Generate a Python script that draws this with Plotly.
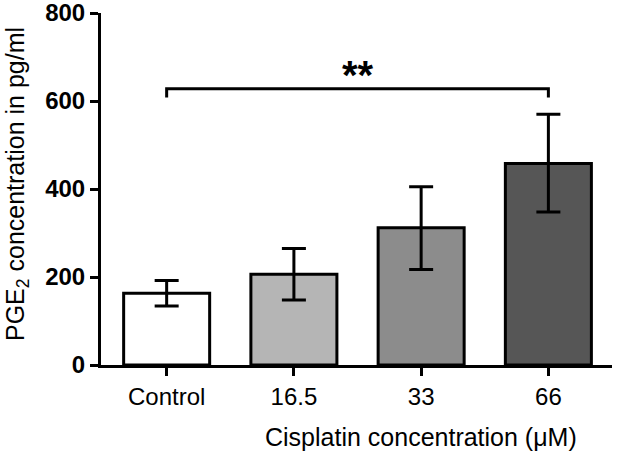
import plotly.graph_objects as go

categories = ["Control", "16.5", "33", "66"]
means = [163, 206, 312, 458]
err_plus = [29, 59, 93, 112]
err_minus = [29, 58, 95, 110]
bar_colors = ["#ffffff", "#b5b5b5", "#8c8c8c", "#565656"]
y_ticks = [0, 200, 400, 600, 800]
bracket_y = 628
bracket_drop = 20
sig_label = "**"
sig_label_y = 659

xpos = list(range(len(categories)))

fig = go.Figure()
fig.add_trace(go.Bar(
    x=xpos, y=means, width=0.676,
    marker=dict(color=bar_colors, line=dict(color="black", width=3)),
    error_y=dict(type="data", array=err_plus, arrayminus=err_minus,
                 color="black", thickness=3, width=12),
    showlegend=False,
))
# significance bracket
fig.add_trace(go.Scatter(
    x=[xpos[0], xpos[0], xpos[-1], xpos[-1]],
    y=[bracket_y - bracket_drop, bracket_y, bracket_y, bracket_y - bracket_drop],
    mode="lines", line=dict(color="black", width=3), showlegend=False,
    hoverinfo="skip", cliponaxis=False,
))
fig.add_annotation(x=(xpos[0] + xpos[-1]) / 2, y=sig_label_y,
                   text=sig_label, showarrow=False,
                   yanchor="middle", font=dict(size=40, color="black", weight="bold"))

fig.update_layout(
    width=617, height=454,
    margin=dict(l=101, r=5, t=13, b=89, autoexpand=False),
    paper_bgcolor="white", plot_bgcolor="white",
    font=dict(family="Liberation Sans, Arial", color="black"),
    xaxis=dict(range=[-0.516, 3.5], tickmode="array", tickvals=xpos, ticktext=categories,
               showline=True, linecolor="black", linewidth=3, ticks="outside",
               ticklen=8, tickwidth=3, tickcolor="black", showgrid=False, zeroline=False,
               automargin=False, ticklabeloverflow="allow",
               tickfont=dict(size=24, color="black")),
    yaxis=dict(range=[0, 800], tickvals=y_ticks, showline=True, linecolor="black",
               linewidth=3, ticks="outside", ticklen=8, tickwidth=3, tickcolor="black",
               showgrid=False, zeroline=False, automargin=False, ticklabeloverflow="allow",
               tickfont=dict(size=24, color="black", weight="bold")),
)
fig.add_annotation(xref="paper", yref="paper", x=(421 - 101) / 511, y=(365 - 437) / 352,
                   text="Cisplatin concentration (μM)", showarrow=False,
                   xanchor="center", yanchor="middle", font=dict(size=25, color="black"))
fig.add_annotation(xref="paper", yref="paper", x=(17 - 101) / 511, y=(365 - 184) / 352,
                   text="PGE<sub>2</sub> concentration in pg/ml", showarrow=False,
                   textangle=-90, xanchor="center", yanchor="middle",
                   font=dict(size=25, color="black"))

fig.write_html(
    "out.html",
    config={"displayModeBar": False},
    post_script="document.body.style.margin='0';document.body.style.overflow='hidden';",
)
